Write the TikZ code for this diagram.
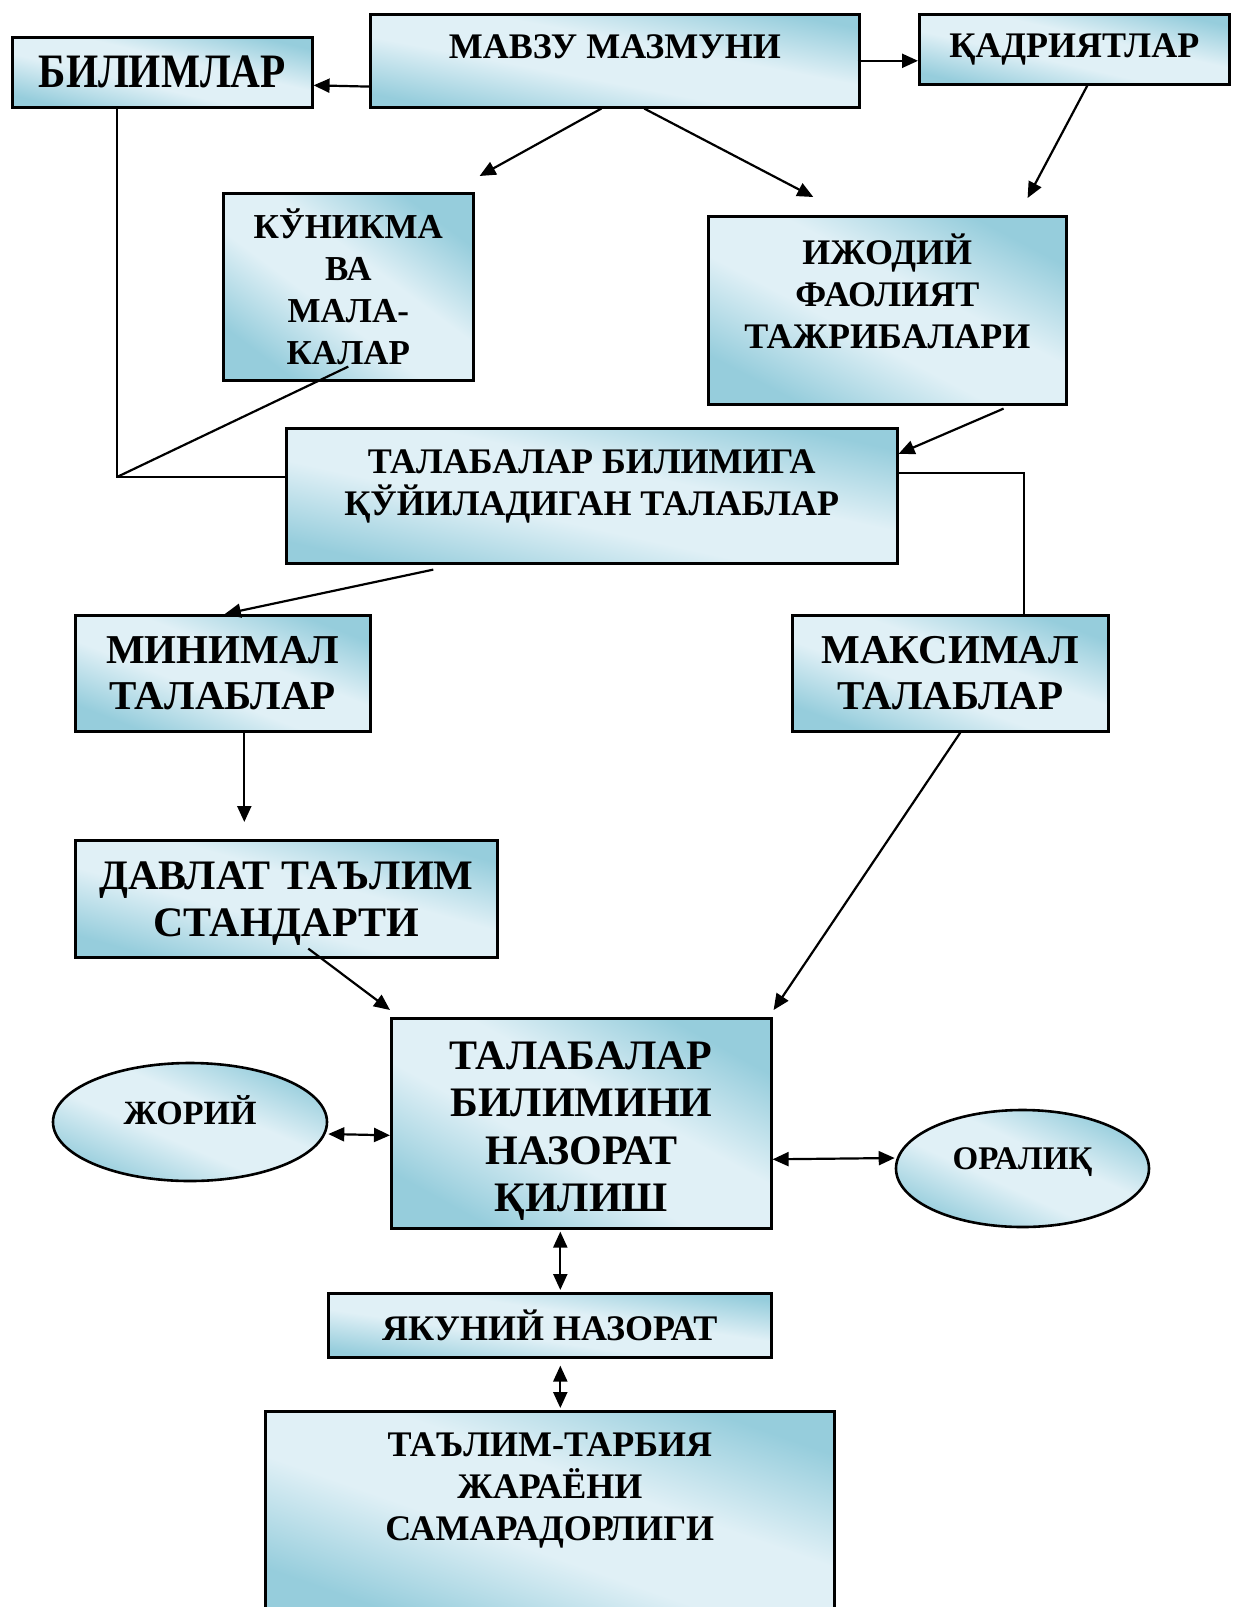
\documentclass[tikz,border=0pt]{standalone}
\usepackage{fontspec}
\setmainfont{Liberation Serif}
\usetikzlibrary{arrows.meta,shapes.geometric}

\definecolor{boxdark}{RGB}{150,205,220}
\definecolor{boxlight}{RGB}{224,240,246}

% diagonal fill: dark corners, light band in the middle
\pgfdeclareverticalshading{wordfill}{100bp}{color(0bp)=(boxdark); color(25bp)=(boxdark);
  color(43bp)=(boxlight); color(57bp)=(boxlight); color(75bp)=(boxdark); color(100bp)=(boxdark)}

% extra depth below the last line, pushes the text up in its box
\newcommand\lift[1]{\rule[-#1]{0pt}{#1}}

\tikzset{
  box/.style={draw, line width=1.3pt, shade, shading=wordfill, align=center, inner sep=0pt},
  oval/.style={box, ellipse},
  % size of the box; the light band runs from corner to corner
  dims/.style 2 args={minimum width=#1pt, minimum height=#2pt, shading angle={-atan(#2/#1)}},
  sz/.style 2 args={font=\bfseries\fontsize{#1}{#2}\selectfont},
  link/.style={line width=1.1pt},
  arr/.style={link, -{Triangle[length=8pt,width=7pt]}},
  darr/.style={link, {Triangle[length=8pt,width=7pt]}-{Triangle[length=8pt,width=7pt]}},
}

\begin{document}
\begin{tikzpicture}[x=0.5pt, y=-0.5pt]
  \useasboundingbox (0,0) rectangle (1259,1607);
  \clip (0,0) rectangle (1259,1607);

  % top row
  \node[box, sz={24}{28}, anchor=north west, dims={150}{35}]
    (bilim) at (11,36) {\scalebox{0.86}[1]{БИЛИМЛАР}};
  \node[box, sz={18}{21}, anchor=north west, dims={244.5}{46.5}]
    (mavzu) at (369,13) {МАВЗУ МАЗМУНИ\lift{14.5pt}};
  \node[box, sz={18}{21}, anchor=north west, dims={155}{35}]
    (qadr) at (918,13) {ҚАДРИЯТЛАР\lift{3pt}};

  % second row
  \node[box, sz={17.5}{21}, anchor=north west, dims={125}{93.5}]
    (kunikma) at (222,192) {КЎНИКМА\\ВА\\МАЛА-\\КАЛАР};
  \node[box, sz={18}{21}, anchor=north west, dims={179}{94}]
    (ijod) at (707,215) {ИЖОДИЙ\\ФАОЛИЯТ\\ТАЖРИБАЛАРИ\lift{19pt}};

  \node[box, sz={18}{21}, anchor=north west, dims={305.5}{67.5}]
    (talab) at (285,427) {ТАЛАБАЛАР БИЛИМИГА\\ҚЎЙИЛАДИГАН ТАЛАБЛАР\lift{13.5pt}};

  \node[box, sz={20.5}{23}, anchor=north west, dims={147.5}{58}]
    (minimal) at (74,614) {МИНИМАЛ\\ТАЛАБЛАР};
  \node[box, sz={20.5}{23}, anchor=north west, dims={158}{58}]
    (maksimal) at (791,614) {МАКСИМАЛ\\ТАЛАБЛАР};
  \node[box, sz={21}{23.5}, anchor=north west, dims={211}{58.5}]
    (davlat) at (74,839) {ДАВЛАТ ТАЪЛИМ\\\smash{СТАНДАРТИ}};

  % control block
  \node[box, sz={21}{23.75}, anchor=north west, dims={190}{105}]
    (nazorat) at (390,1017) {\rule{0pt}{17pt}ТАЛАБАЛАР\\БИЛИМИНИ\\НАЗОРАТ\\\smash{ҚИЛИШ}};
  \node[oval, sz={17}{20}, dims={137}{59}]
    (joriy) at (190,1122) {ЖОРИЙ\lift{12pt}};
  \node[oval, sz={16.5}{20}, dims={126.5}{58.5}]
    (oraliq) at (1022.5,1168.5) {ОРАЛИҚ\lift{10pt}};
  \node[box, sz={18}{21}, anchor=north west, dims={221.5}{32}]
    (yakuniy) at (327,1292) {ЯКУНИЙ НАЗОРАТ};
  \node[box, sz={18}{21}, anchor=north west, dims={284.5}{100}]
    (talim) at (264,1410) {ТАЪЛИМ-ТАРБИЯ\\ЖАРАЁНИ\\САМАРАДОРЛИГИ\lift{24.5pt}};

  \coordinate (jn) at (117,477);

  % connectors
  \draw[arr] ([yshift=11pt]mavzu.south west) -- ([yshift=-6.5pt]bilim.east);
  \draw[arr] ([xshift=-1.5pt]mavzu.east) -- ([yshift=-5.75pt]qadr.west);
  \draw[arr] ([xshift=-6.75pt]mavzu.south) -- ([xshift=2.5pt,yshift=8pt]kunikma.north east);
  \draw[arr] ([xshift=14.75pt]mavzu.south) -- ([xshift=-37pt,yshift=9pt]ijod.north);
  \draw[arr] ([xshift=6.5pt]qadr.south) -- ([xshift=-20pt,yshift=8.5pt]ijod.north east);
  \draw[arr] ([xshift=-32pt,yshift=-1.5pt]ijod.south east) -- ([yshift=21pt]talab.east);
  \draw[link] ([xshift=53pt]bilim.south west) -- (jn) -- (jn -| talab.west);
  \draw[link] ([yshift=7.5pt]kunikma.south) -- (jn);
  \draw[link] ([yshift=11.25pt]talab.east) -| ([xshift=37pt]maksimal.north);
  \draw[arr] ([xshift=-79.25pt,yshift=-2.5pt]talab.south) -- ([xshift=1pt]minimal.north);
  \draw[arr] ([xshift=10.75pt]minimal.south) -- ([xshift=-21pt,yshift=8.5pt]davlat.north);
  \draw[arr] ([xshift=11pt,yshift=5pt]davlat.south) -- ([yshift=3.5pt]nazorat.north west);
  \draw[arr] ([xshift=5pt]maksimal.south) -- ([xshift=0.5pt,yshift=3.5pt]nazorat.north east);
  \draw[darr] ([yshift=-6pt]joriy.east) -- ([yshift=-6pt]nazorat.west);
  \draw[darr] ([yshift=-18pt]nazorat.east) -- ([yshift=5.25pt]oraliq.west);
  \draw[darr] ([xshift=-10.5pt,yshift=-1pt]nazorat.south) -- ([xshift=5.25pt,yshift=1pt]yakuniy.north);
  \draw[darr] ([xshift=5.25pt,yshift=-3.5pt]yakuniy.south) -- ([xshift=5.25pt,yshift=1pt]talim.north);
\end{tikzpicture}
\end{document}
